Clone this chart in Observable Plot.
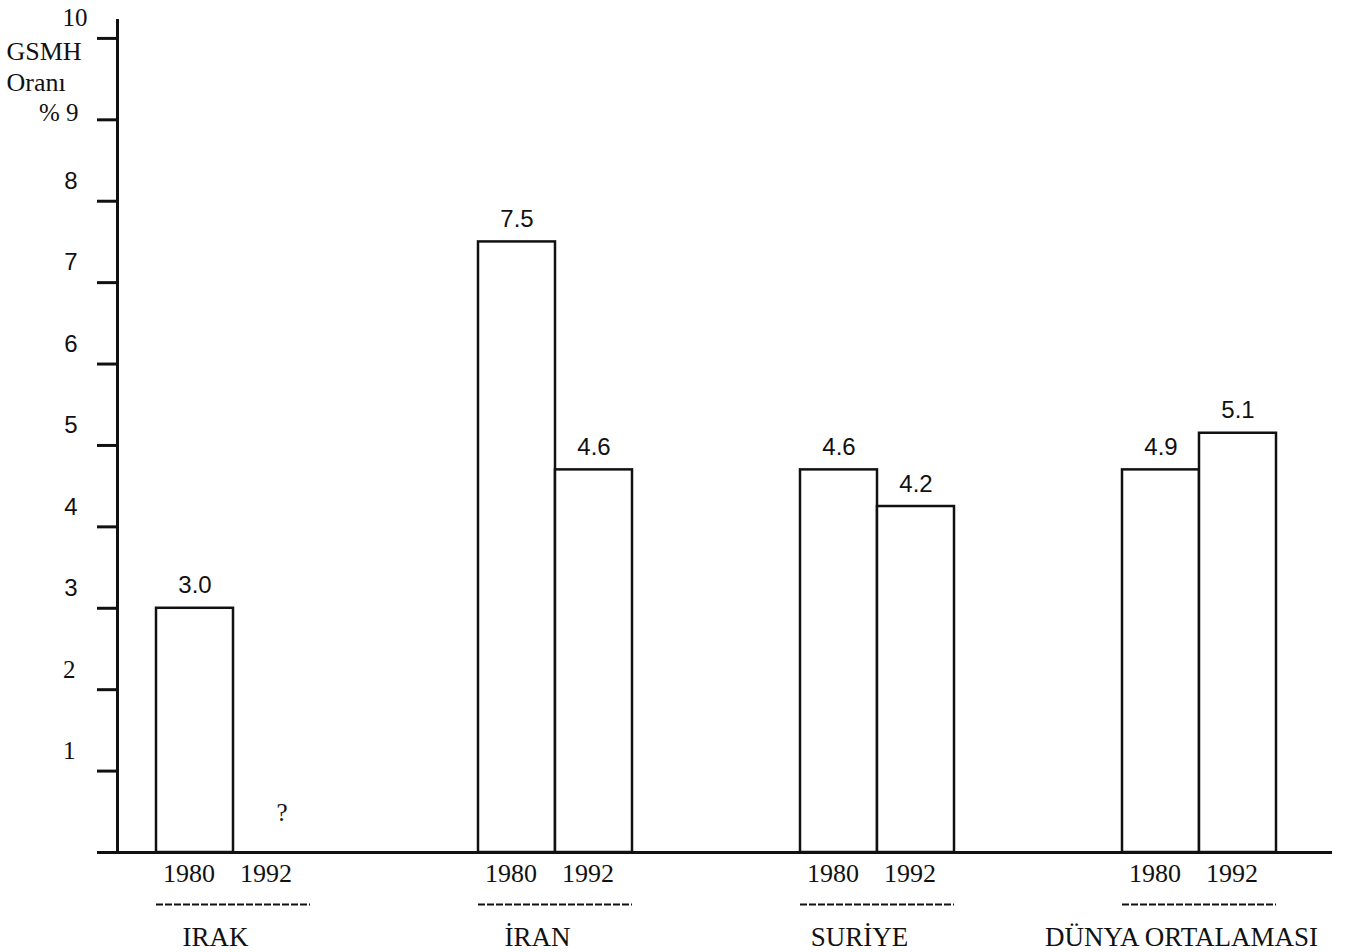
<!DOCTYPE html>
<html><head><meta charset="utf-8">
<script src="https://cdn.jsdelivr.net/npm/d3@7"></script>
<script src="https://cdn.jsdelivr.net/npm/@observablehq/plot@0.6"></script>
<style>body{margin:0;background:#fff} svg{display:block}</style>
</head><body><div id="chart"></div>
<script>
// Data
const countries = ["IRAK", "İRAN", "SURİYE", "DÜNYA ORTALAMASI"];
const years = ["1980", "1992"];
const values1980 = [3.0, 7.5, 4.7, 4.7];
const values1992 = [null, 4.7, 4.25, 5.15];
const labels1980 = ["3.0", "7.5", "4.6", "4.9"];
const labels1992 = ["?", "4.6", "4.2", "5.1"];
const yTicks = [0, 1, 2, 3, 4, 5, 6, 7, 8, 9, 10];
const yTickLabels = [1, 2, 3, 4, 5, 6, 7, 8, 9, 10];
const titleLines = ["GSMH", "Oranı"];
const unitLabel = "%";

const rows = countries.flatMap((c, i) => [
  {country: c, year: years[0], value: values1980[i], label: labels1980[i]},
  {country: c, year: years[1], value: values1992[i], label: labels1992[i]}
]);

const W = 1361, H = 952;
const mL = 117, mR = 45.5, mT = 20, mB = 100;
const pI = 0.5225, pO = 0.1194;
const step = (W - mL - mR) / (countries.length - pI + 2 * pO);
const bw = step * (1 - pI);

const serif = "'Liberation Serif', 'Times New Roman', serif";
const sans = "'Liberation Sans', Arial, sans-serif";
const ink = "#111";

const has = d => d.value != null;

const chart = Plot.plot({
  width: W, height: H,
  marginLeft: mL, marginRight: mR, marginTop: mT, marginBottom: mB,
  style: {background: "#fff", color: ink, overflow: "visible"},
  x: {type: "band", domain: countries, paddingInner: pI, paddingOuter: pO, axis: null},
  y: {domain: [0, 10.22], axis: null},
  marks: [
    Plot.axisY({ticks: yTicks, tickSize: 20, tickFormat: () => "", label: null, strokeWidth: 3, stroke: ink}),
    Plot.frame({anchor: "left", strokeWidth: 3, stroke: ink}),
    Plot.ruleY([0], {insetLeft: -4, insetRight: -16.5, strokeWidth: 3, stroke: ink}),
    Plot.text(yTickLabels.filter(d => d >= 3 && d <= 8), {y: d => d, text: d => String(d), frameAnchor: "left", dx: -40, dy: -20, textAnchor: "end", fontFamily: sans, fontSize: 24, fill: ink}),
    Plot.text(yTickLabels.filter(d => d < 3), {y: d => d, text: d => String(d), frameAnchor: "left", dx: -42, dy: -20, textAnchor: "end", fontFamily: serif, fontSize: 25, fill: ink}),
    Plot.text(yTickLabels.filter(d => d === 10), {y: d => d, text: d => String(d), frameAnchor: "left", dx: -30, dy: -20, textAnchor: "end", fontFamily: serif, fontSize: 25, fill: ink}),
    Plot.text(yTickLabels.filter(d => d === 9), {y: d => d, text: d => unitLabel + " " + d, frameAnchor: "left", dx: -39, dy: -7, textAnchor: "end", fontFamily: serif, fontSize: 25, fill: ink}),
    Plot.text([titleLines.join("\n")], {frameAnchor: "top-left", dx: -111, dy: 17, textAnchor: "start", lineAnchor: "top", lineHeight: 1.2, fontFamily: serif, fontSize: 26, fill: ink}),
    Plot.barY(rows.filter(d => d.year === years[0] && has(d)), {x: "country", y: "value", insetRight: bw / 2, fill: "white", stroke: ink, strokeWidth: 2.5}),
    Plot.barY(rows.filter(d => d.year === years[1] && has(d)), {x: "country", y: "value", insetLeft: bw / 2, fill: "white", stroke: ink, strokeWidth: 2.5}),
    Plot.text(rows.filter(d => d.year === years[0] && has(d)), {x: "country", y: "value", text: "label", dx: -bw / 4, dy: -15, lineAnchor: "bottom", fontFamily: sans, fontSize: 24, fill: ink}),
    Plot.text(rows.filter(d => d.year === years[1] && has(d)), {x: "country", y: "value", text: "label", dx: bw / 4, dy: -15, lineAnchor: "bottom", fontFamily: sans, fontSize: 24, fill: ink}),
    Plot.text(rows.filter(d => !has(d)), {x: "country", y: () => 0, text: "label", dx: bw / 4 + 10, dy: -40, fontFamily: serif, fontSize: 25, fill: ink}),
    Plot.text(rows.filter(d => d.year === years[0]), {x: "country", y: () => 0, text: "year", dx: -bw / 4 - 6, dy: 21, fontFamily: serif, fontSize: 26, fill: ink}),
    Plot.text(rows.filter(d => d.year === years[1]), {x: "country", y: () => 0, text: "year", dx: bw / 4 - 6, dy: 21, fontFamily: serif, fontSize: 26, fill: ink}),
    Plot.tickY(countries, {x: d => d, y: () => 0, dy: 52, stroke: ink, strokeWidth: 2.2, strokeDasharray: "7,2"}),
    Plot.text(countries, {x: d => d, y: () => 0, text: d => d, dx: -18, dy: 85, fontFamily: serif, fontSize: 27, fill: ink})
  ]
});
document.getElementById("chart").appendChild(chart);
</script>
</body></html>
